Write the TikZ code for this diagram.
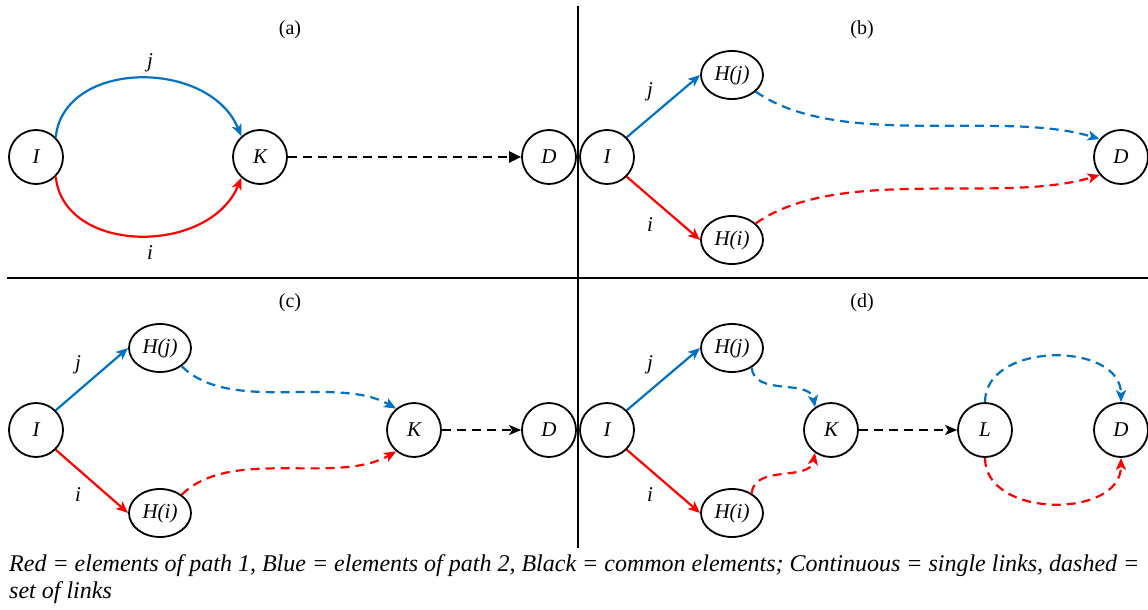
\documentclass[tikz,border=0pt]{standalone}
\usepackage{fontspec}
\setmainfont{Liberation Serif}
\usetikzlibrary{arrows.meta,shapes.geometric}
\definecolor{pblue}{RGB}{0,114,198}
\definecolor{pred}{RGB}{255,0,0}
\begin{document}
\begin{tikzpicture}[x=1pt,y=1pt,
  nodefont/.style={font=\fontsize{21}{24}\selectfont\itshape},
  circ/.style={circle,draw,line width=1.8pt,minimum size=54pt,inner sep=0pt,nodefont},
  ell/.style={ellipse,draw,line width=1.8pt,minimum width=62pt,minimum height=48pt,inner sep=0pt,nodefont},
  tip/.style={-{Stealth[length=12pt,width=10pt,inset=3pt]}},
  bl/.style={pblue,line width=2.2pt,tip},
  rd/.style={pred,line width=2.2pt,tip},
  dsh/.style={dash pattern=on 9pt off 6pt},
  blk/.style={black,line width=2.2pt,dsh,tip},
  ttl/.style={font=\fontsize{20}{24}\selectfont},
  lbl/.style={nodefont},
  sep/.style={line width=2.5pt}
]
\useasboundingbox (0,0) rectangle (1148,-610);
% separators
\coordinate (vt) at (578,-6);
\coordinate (vb) at (578,-548);
\coordinate (hl) at (7,-278);
\coordinate (hr) at (1148,-278);
\draw[sep] (vt) -- (vb);
\draw[sep] (hl) -- (hr);

% ---------- (a)
\node[ttl] (ta) at (290,-30) {(a)};
\node[circ] (Ia) at (36,-157) {I};
\node[circ] (Ka) at (260,-157) {K};
\node[circ] (Da) at (549,-157) {D};
\draw[bl] (Ia.45) .. controls +(8,78) and +(-32,78) .. (Ka.132);
\draw[rd] (Ia.-45) .. controls +(8,-78) and +(-32,-78) .. (Ka.-132);
\node[lbl] (ja) at (150,-63) {j};
\node[lbl] (ia) at (150,-253) {i};
\draw[black,line width=2.2pt,dsh,-{Triangle[length=12pt,width=11pt]}] (Ka) -- (Da);

% ---------- (b)
\node[ttl] (tb) at (862,-30) {(b)};
\node[circ] (Ib) at (607,-157) {I};
\node[ell] (Hjb) at (732,-75) {H(j)};
\node[ell] (Hib) at (732,-240) {H(i)};
\node[circ] (Db) at (1121,-157) {D};
\draw[bl] (Ib.45) -- (Hjb.west);
\draw[rd] (Ib.-45) -- (Hib.west);
\draw[bl,dsh] (Hjb.-35) to[out=-35,in=163,looseness=0.75] (Db.140);
\draw[rd,dsh] (Hib.35) to[out=35,in=-163,looseness=0.75] (Db.-140);
\node[lbl] (jb) at (650,-92) {j};
\node[lbl] (ib) at (650,-225) {i};

% ---------- (c)
\node[ttl] (tc) at (290,-303) {(c)};
\node[circ] (Ic) at (36,-430) {I};
\node[ell] (Hjc) at (160,-348) {H(j)};
\node[ell] (Hic) at (160,-513) {H(i)};
\node[circ] (Kc) at (414,-430) {K};
\node[circ] (Dc) at (549,-430) {D};
\draw[bl] (Ic.45) -- (Hjc.west);
\draw[rd] (Ic.-45) -- (Hic.west);
\draw[bl,dsh] (Hjc.-40) to[out=-45,in=150,looseness=0.8] (Kc.130);
\draw[rd,dsh] (Hic.40) to[out=45,in=-150,looseness=0.8] (Kc.-130);
\draw[blk] (Kc) -- (Dc);
\node[lbl] (jc) at (78,-365) {j};
\node[lbl] (ic) at (78,-495) {i};

% ---------- (d)
\node[ttl] (td) at (862,-303) {(d)};
\node[circ] (Id) at (607,-430) {I};
\node[ell] (Hjd) at (732,-348) {H(j)};
\node[ell] (Hid) at (732,-513) {H(i)};
\node[circ] (Kd) at (831,-430) {K};
\node[circ] (Ld) at (985,-430) {L};
\node[circ] (Dd) at (1121,-430) {D};
\draw[bl] (Id.45) -- (Hjd.west);
\draw[rd] (Id.-45) -- (Hid.west);
\draw[bl,dsh] (Hjd.-45) to[out=-85,in=100] (Kd.125);
\draw[rd,dsh] (Hid.45) to[out=85,in=-100] (Kd.-125);
\draw[blk] (Kd) -- (Ld);
\draw[bl,dsh] (Ld.north) to[out=90,in=90,looseness=1.15] (Dd.north);
\draw[rd,dsh] (Ld.south) to[out=-90,in=-90,looseness=1.15] (Dd.south);
\node[lbl] (jd) at (650,-365) {j};
\node[lbl] (id) at (650,-495) {i};

% caption
\node[anchor=north west,align=left,inner sep=0pt,font=\fontsize{24}{27}\selectfont\itshape] (cap) at (9,-554)
 {Red = elements of path 1, Blue = elements of path 2, Black = common elements; Continuous = single links, dashed =\\set of links};
\end{tikzpicture}
\end{document}
